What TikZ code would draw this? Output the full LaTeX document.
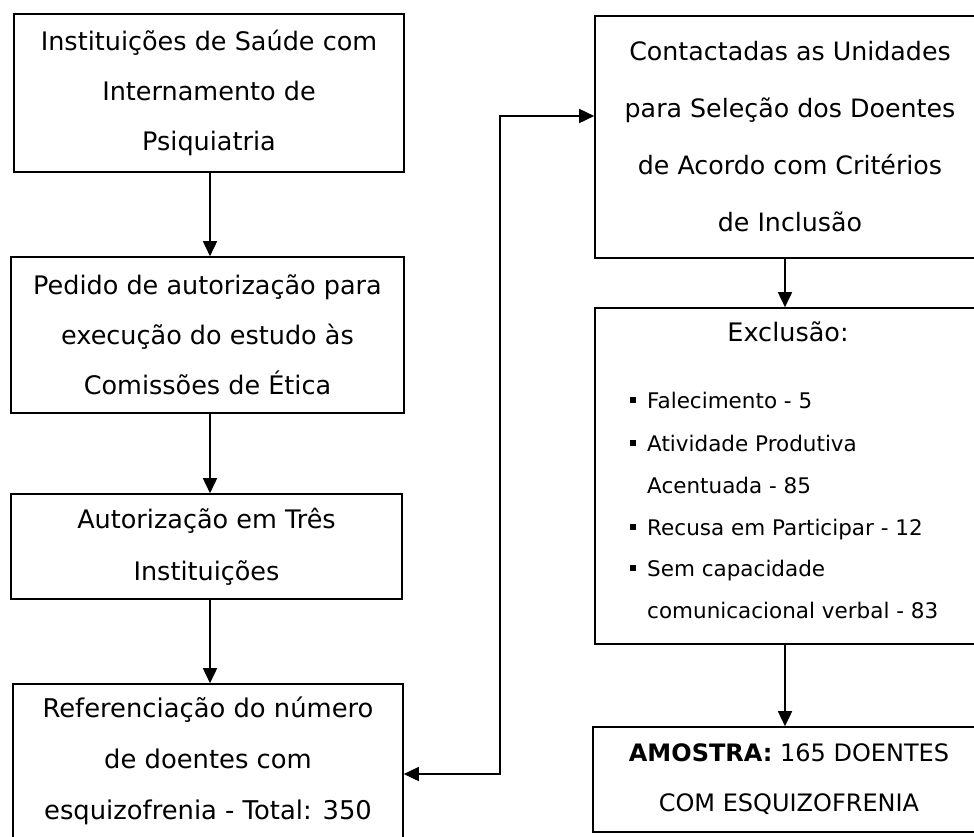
\documentclass[tikz,border=0pt]{standalone}
\usepackage{fontspec}
\setmainfont{DejaVu Sans}
\usetikzlibrary{arrows.meta}
\newcommand\bulsq{\makebox[17pt][l]{\raisebox{5pt}{\rule{6pt}{6pt}}}}
\begin{document}
\begin{tikzpicture}[x=1pt,y=-1pt,
  box/.style={draw, line width=1.6pt, inner sep=0pt, align=center, font=\fontsize{25.5}{50}\selectfont},
  tip/.style={},
  arr/.style={line width=1.6pt, -{Triangle[length=15pt,width=14pt]}},
  darr/.style={line width=1.6pt, {Triangle[length=15pt,width=14pt]}-{Triangle[length=15pt,width=14pt]}},
  item/.style={anchor=base west, inner sep=0pt, font=\fontsize{21.5}{21.5}\selectfont},
]
\useasboundingbox (0,0) rectangle (974,836);
\fill[white] (0,0) rectangle (974,836);

\node[box, minimum width=390pt, minimum height=158pt] (b1) at (209,93)
  {Instituições de Saúde com\\Internamento de\\Psiquiatria};
\node[box, minimum width=393pt, minimum height=156pt] (b2) at (207.5,335)
  {Pedido de autorização para\\execução do estudo às\\Comissões de Ética};
\node[box, minimum width=391pt, minimum height=105pt, font=\fontsize{25.5}{52}\selectfont] (b3) at (206.5,546.5)
  {Autorização em Três\\Instituições};
\node[box, minimum width=390pt, minimum height=154pt, font=\fontsize{25.8}{51}\selectfont] (b4) at (208,761)
  {Referenciação do número\\de doentes com\\esquizofrenia - Total: 350};

\node[box, minimum width=390pt, minimum height=242pt, font=\fontsize{25.3}{57}\selectfont] (r1) at (790,137)
  {Contactadas as Unidades\\para Seleção dos Doentes\\de Acordo com Critérios\\de Inclusão};
\node[box, minimum width=390pt, minimum height=336pt] (r2) at (790,476) {};
\node[anchor=base, inner sep=0pt, font=\fontsize{25.5}{25.5}\selectfont] (t2) at (788,341) {Exclusão:};
\node[item] (i1) at (630,408) {\bulsq Falecimento - 5};
\node[item] (i2) at (630,451) {\bulsq Atividade Produtiva};
\node[item] (i2b) at (647,493) {Acentuada - 85};
\node[item] (i3) at (630,535) {\bulsq Recusa em Participar - 12};
\node[item] (i4) at (630,576) {\bulsq Sem capacidade};
\node[item] (i4b) at (647,618) {comunicacional verbal - 83};
\node[box, minimum width=392pt, minimum height=105pt, font=\fontsize{24}{50}\selectfont] (r3) at (789,779.5)
  {\textbf{AMOSTRA:} 165 DOENTES\\COM ESQUIZOFRENIA};

\coordinate (xl) at (210,0);
\coordinate (xr) at (785,0);
\coordinate (k1) at (500,774);
\coordinate (k2) at (500,116);

\draw[arr] (b1.south -| xl) -- (b2.north -| xl);
\draw[arr] (b2.south -| xl) -- (b3.north -| xl);
\draw[arr] (b3.south -| xl) -- (b4.north -| xl);
\draw[arr] (r1.south -| xr) -- (r2.north -| xr);
\draw[arr] (r2.south -| xr) -- (r3.north -| xr);
\draw[darr] (b4.east |- k1) -- (k1) -- (k2) -- (r1.west |- k2);
\end{tikzpicture}
\end{document}
